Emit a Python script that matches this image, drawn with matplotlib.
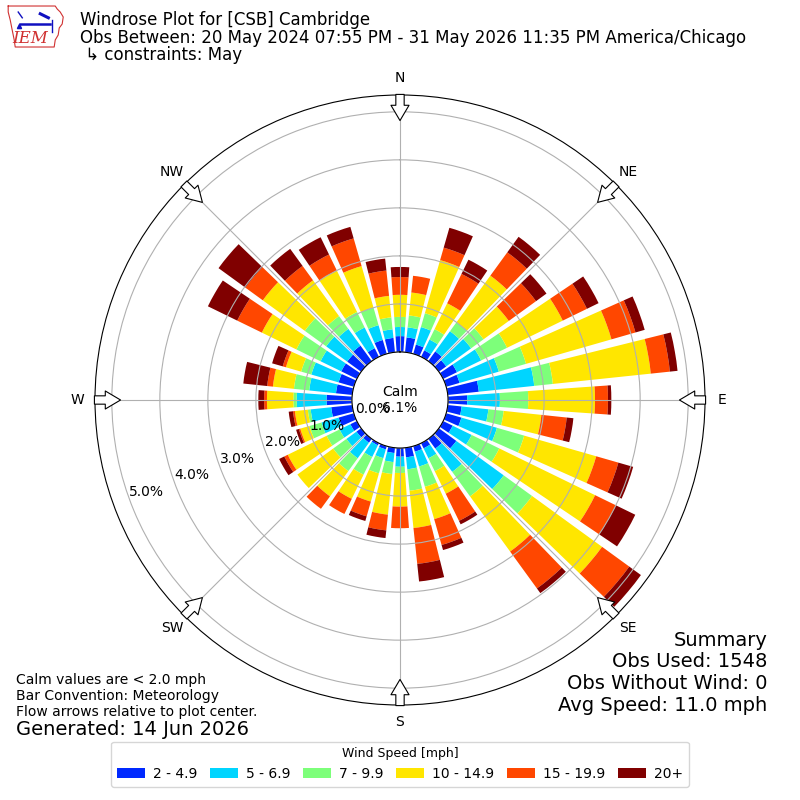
import matplotlib
matplotlib.use("Agg")
import matplotlib.pyplot as plt
from matplotlib.patches import Patch
import numpy as np

# wind directions (deg, where the wind comes from) and percent of obs per speed bin
directions = np.arange(0, 360, 10)
speed_labels = ["2 - 4.9", "5 - 6.9", "7 - 9.9", "10 - 14.9", "15 - 19.9", "20+"]

pct_2_5 = [0.33, 0.31, 0.20, 0.15, 0.25, 0.19, 0.32, 0.29, 0.65, 0.40, 0.29, 0.33,
           0.22, 0.45, 0.25, 0.12, 0.12, 0.20, 0.18, 0.11, 0.07, 0.05, 0.10, 0.12,
           0.15, 0.33, 0.44, 0.53, 0.34, 0.33, 0.36, 0.36, 0.40, 0.20, 0.30, 0.30]
pct_5_7 = [0.19, 0.21, 0.38, 0.25, 0.52, 0.64, 0.56, 0.85, 1.16, 0.68, 0.56, 0.77,
           0.44, 1.22, 0.60, 0.23, 0.32, 0.25, 0.21, 0.19, 0.19, 0.27, 0.40, 0.26,
           0.25, 0.37, 0.43, 0.62, 0.56, 0.59, 0.48, 0.54, 0.43, 0.48, 0.32, 0.18]
pct_7_10 = [0.21, 0.25, 0.30, 0.24, 0.23, 0.32, 0.60, 0.59, 0.39, 0.59, 0.32, 0.59,
            0.64, 0.73, 0.63, 0.30, 0.44, 0.45, 0.13, 0.25, 0.33, 0.41, 0.33, 0.34,
            0.30, 0.26, 0.06, 0.07, 0.32, 0.22, 0.56, 0.55, 0.33, 0.36, 0.38, 0.25]
pct_10_15 = [0.46, 0.48, 1.15, 0.60, 1.20, 0.65, 1.29, 1.85, 2.05, 1.39, 0.79, 1.56,
             2.22, 1.80, 1.42, 0.52, 0.70, 0.78, 0.70, 0.85, 0.61, 0.56, 0.65, 0.92,
             0.90, 0.20, 0.27, 0.55, 0.44, 0.33, 0.80, 1.08, 0.92, 0.96, 0.90, 0.45]
pct_15_20 = [0.37, 0.35, 0.27, 0.68, 0.60, 0.70, 0.56, 0.52, 0.40, 0.27, 0.53, 0.48,
             0.48, 0.70, 0.95, 0.63, 0.56, 0.75, 0.45, 0.33, 0.32, 0.35, 0.32, 0.00,
             0.08, 0.03, 0.04, 0.06, 0.12, 0.07, 0.57, 0.45, 0.37, 0.37, 0.60, 0.53]
pct_20 = [0.21, 0.00, 0.43, 0.33, 0.40, 0.27, 0.27, 0.20, 0.16, 0.07, 0.14, 0.32,
          0.45, 0.30, 0.12, 0.08, 0.11, 0.37, 0.00, 0.16, 0.10, 0.00, 0.00, 0.00,
          0.12, 0.06, 0.09, 0.12, 0.50, 0.23, 0.68, 0.69, 0.44, 0.40, 0.25, 0.25]

calm_pct = 6.1
r_ticks = [0, 1, 2, 3, 4, 5]

fig = plt.figure(figsize=(8, 8), dpi=100)
ax = fig.add_axes([0.11875, 0.11875, 0.7625, 0.7625], projection="polar")
ax.set_theta_zero_location("N")
ax.set_theta_direction(-1)

colors = plt.get_cmap("jet")(np.linspace(0, 1, 7)[1:])
theta = np.deg2rad(directions)
width = np.deg2rad(8)

bins = [pct_2_5, pct_5_7, pct_7_10, pct_10_15, pct_15_20, pct_20]
bottom = np.zeros(len(directions))
for vals, col in zip(bins, colors):
    vals = np.array(vals)
    ax.bar(theta, vals, width=width, bottom=bottom, color=col, edgecolor="none")
    bottom = bottom + vals

ax.set_rorigin(-1.0)
ax.set_ylim(0, 5.35)
ax.set_yticks(r_ticks)
ax.set_yticklabels(["%.1f%%" % t for t in r_ticks], fontsize=10)
ax.set_rlabel_position(250)
ax.set_thetagrids(range(0, 360, 45), ["N", "NE", "E", "SE", "S", "SW", "W", "NW"],
                  fontsize=10)
ax.tick_params(axis="x", pad=2)
ax.grid(True, color="#b0b0b0", linewidth=0.8)

ax.text(0.5, 0.5, "Calm\n%.1f%%" % calm_pct, transform=ax.transAxes,
        ha="center", va="center", fontsize=10)

# flow arrows on the outer ring, pointing to the center
for ang in range(0, 360, 45):
    ax.annotate("", xy=(np.deg2rad(ang), 4.76), xytext=(np.deg2rad(ang), 5.42),
                arrowprops=dict(arrowstyle="simple,head_length=0.55,head_width=0.65,tail_width=0.3",
                                fc="white", ec="black", lw=0.8, mutation_scale=20),
                annotation_clip=False)

# header
fig.text(0.1, 0.975, "Windrose Plot for [CSB] Cambridge", fontsize=12, va="center")
fig.text(0.1, 0.953, "Obs Between: 20 May 2024 07:55 PM - 31 May 2026 11:35 PM America/Chicago",
         fontsize=12, va="center")
fig.text(0.1, 0.931, " \u21b3 constraints: May", fontsize=12, va="center")

# small logo stand-in
lax = fig.add_axes([0.009, 0.9375, 0.0725, 0.0575])
lax.set_xlim(0, 10)
lax.set_ylim(0, 8)
lax.axis("off")
iowa_x = [0.17, 8.28, 8.62, 9.14, 9.66, 9.48, 8.97, 8.79, 8.28, 8.1, 1.38, 1.21, 0.86, 0.52, 0.17, 0.17]
iowa_y = [7.65, 7.65, 7.13, 6.61, 5.74, 4.52, 3.83, 2.61, 1.74, 0.52, 0.52, 1.74, 3.48, 5.22, 6.61, 7.65]
lax.plot(iowa_x, iowa_y, color="#d03030", lw=0.8)
lax.plot([2.2, 7.4], [4.5, 4.5], color="#1010c0", lw=1.8)
lax.plot([1.9, 2.6], [6.6, 5.6], color="#1010c0", lw=1.0)
lax.plot([5.7, 7.1], [6.3, 5.6], color="#1010c0", lw=2.2)
lax.plot([7.8, 7.8], [5.2, 3.1], color="#1010c0", lw=1.0)
lax.plot([2.0], [4.2], marker="^", color="#1010c0", ms=3)
lax.text(4.0, 2.0, "IEM", color="#d03030", fontsize=12, family="DejaVu Serif",
         style="italic", ha="center", va="center")

# footer notes
fig.text(0.02, 0.150, "Calm values are < 2.0 mph", fontsize=10, va="center")
fig.text(0.02, 0.130, "Bar Convention: Meteorology", fontsize=10, va="center")
fig.text(0.02, 0.110, "Flow arrows relative to plot center.", fontsize=10, va="center")
fig.text(0.02, 0.088, "Generated: 14 Jun 2026", fontsize=14, va="center")

fig.text(0.959, 0.200, "Summary", fontsize=14, ha="right", va="center")
fig.text(0.959, 0.173, "Obs Used: 1548", fontsize=14, ha="right", va="center")
fig.text(0.959, 0.146, "Obs Without Wind: 0", fontsize=14, ha="right", va="center")
fig.text(0.959, 0.118, "Avg Speed: 11.0 mph", fontsize=14, ha="right", va="center")

handles = [Patch(facecolor=c) for c in colors]
fig.legend(handles, speed_labels, loc="lower center", ncol=6, bbox_to_anchor=(0.5, 0.008),
           title="Wind Speed [mph]", fontsize=10, title_fontsize=9,
           columnspacing=0.9, handletextpad=0.6)

fig.savefig("out.png", dpi=100)
